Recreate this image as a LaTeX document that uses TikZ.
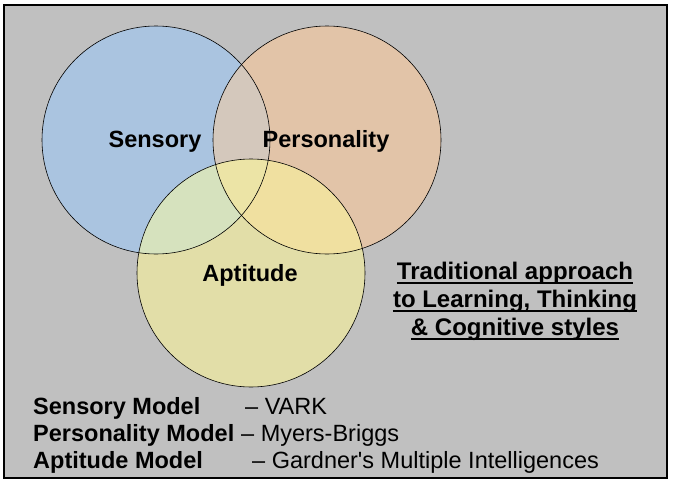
\documentclass[tikz,border=0pt]{standalone}
\usepackage{fontspec}
\setmainfont{Liberation Sans}

\definecolor{bggray}{RGB}{192,192,192}
\definecolor{sensoryblue}{RGB}{170,196,224}
\definecolor{personorange}{RGB}{226,196,168}
\definecolor{aptiyellow}{RGB}{226,222,168}
\definecolor{mixbo}{RGB}{212,200,188}
\definecolor{mixby}{RGB}{214,226,190}
\definecolor{mixoy}{RGB}{240,224,160}
\definecolor{mixall}{RGB}{236,228,166}

\tikzset{
  vennline/.style={draw=black, line width=0.6pt},
  setname/.style={font=\fontsize{23.5}{26}\selectfont\bfseries, inner sep=0pt, anchor=base},
  captionline/.style={font=\fontsize{24}{28}\selectfont\bfseries, inner sep=0pt, anchor=base},
  modelname/.style={font=\fontsize{23.5}{26}\selectfont\bfseries, inner sep=0pt, anchor=base west},
  modelref/.style={font=\fontsize{23.5}{26}\selectfont, inner sep=0pt, anchor=base west},
  uline/.style={line width=1.6pt}
}

\newcommand{\sensorycirc}{(156,140) circle (114)}
\newcommand{\personcirc}{(327,140) circle (114)}
\newcommand{\aptitudecirc}{(251,273) circle (114)}

\begin{document}
\begin{tikzpicture}[x=1pt, y=-1pt]
    \useasboundingbox (0,0) rectangle (673,485);
    \fill[white] (0,0) rectangle (673,485);

    % Gray panel
    \draw[fill=bggray, line width=1.5pt] (4,5) rectangle (667,478);

    % Three circles
    \fill[sensoryblue] \sensorycirc;
    \fill[personorange] \personcirc;
    \fill[aptiyellow] \aptitudecirc;

    % Overlaps
    \begin{scope}
        \clip \sensorycirc;
        \fill[mixbo] \personcirc;
        \fill[mixby] \aptitudecirc;
    \end{scope}
    \begin{scope}
        \clip \personcirc;
        \fill[mixoy] \aptitudecirc;
        \clip \sensorycirc;
        \fill[mixall] \aptitudecirc;
    \end{scope}

    % Outlines on top
    \draw[vennline] \sensorycirc;
    \draw[vennline] \personcirc;
    \draw[vennline] \aptitudecirc;

    % Set names
    \node[setname] (sensory) at (155,147) {Sensory};
    \node[setname] (personality) at (326,147) {Personality};
    \node[setname] (aptitude) at (250,281) {Aptitude};

    % Underlined caption
    \node[captionline] (cap1) at (515,279) {Traditional approach\hspace{0.4em}};
    \node[captionline] (cap2) at (515,307) {to Learning, Thinking};
    \node[captionline] (cap3) at (515,335) {\& Cognitive styles};
    \foreach \c in {cap1,cap2,cap3}
        \draw[uline] ([yshift=-4pt]\c.base west) -- ([yshift=-4pt]\c.base east);

    % Models
    \node[modelname] (m1) at (33,414) {Sensory Model};
    \node[modelname] (m2) at (33,441) {Personality Model};
    \node[modelname] (m3) at (33,468) {Aptitude Model};
    \node[modelref] (r1) at (245,414) {– VARK};
    \node[modelref] (r2) at (241,441) {– Myers-Briggs};
    \node[modelref] (r3) at (252,468) {– Gardner\textquotesingle s Multiple Intelligences};
\end{tikzpicture}
\end{document}
